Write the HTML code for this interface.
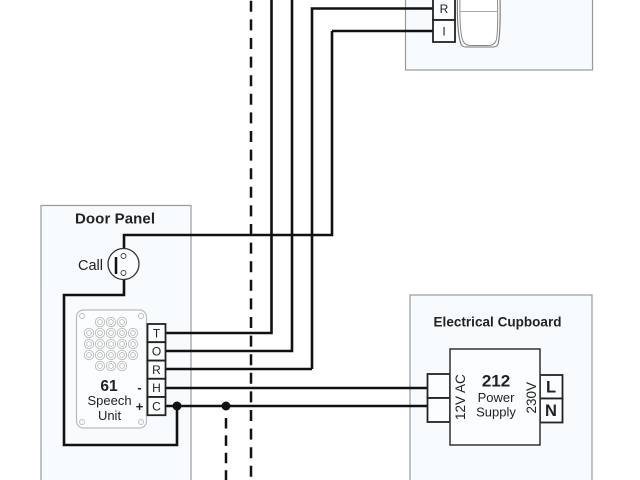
<!DOCTYPE html>
<html><head><meta charset="utf-8"><style>
html,body{margin:0;padding:0;background:#fff}
svg{display:block;filter:blur(.35px)}
text{font-family:"Liberation Sans",sans-serif;fill:#222}
.b{font-weight:bold}
.w{fill:none;stroke:#111;stroke-width:2.6}
.t{fill:#fcfdfe;stroke:#222;stroke-width:1.8}
.h{fill:none;stroke:#bbb;stroke-width:.9}
</style></head><body>
<svg width="640" height="480" viewBox="0 0 640 480" xmlns="http://www.w3.org/2000/svg">
<rect width="640" height="480" fill="#fff"/>
<rect x="405.5" y="-5" width="187" height="75" fill="#f7fbfe" stroke="#999" stroke-width="1.2"/>
<rect x="41" y="205.5" width="150" height="280" fill="#f7fbfe" stroke="#999" stroke-width="1.2"/>
<rect x="410" y="295" width="182" height="190" fill="#f7fbfe" stroke="#999" stroke-width="1.2"/>

<line x1="251" y1="0.8" x2="251" y2="480" stroke="#111" stroke-width="2.5" stroke-dasharray="11 7.6"/>
<line x1="226" y1="418" x2="226" y2="480" stroke="#111" stroke-width="2.5" stroke-dasharray="10.5 6.9"/>

<path class="w" d="M271.500 0V333H165"/>
<path class="w" d="M292 0V351H165"/>
<path class="w" d="M312 369V8.5H433M312 369H165"/>
<path class="w" d="M332 31H433M332 31V235H124V250"/>
<path class="w" d="M165 388H428M165 406H428"/>
<path class="w" stroke-width="3" d="M124 279V295H64V445H177V406"/>
<circle cx="177" cy="406" r="4.5" fill="#111"/>
<circle cx="226" cy="406" r="4.5" fill="#111"/>

<!-- Call -->
<circle cx="123.5" cy="264" r="15.5" fill="#fbfdfe" stroke="#333" stroke-width="1.3"/>
<line x1="116" y1="257" x2="116" y2="274" stroke="#111" stroke-width="2.5"/>
<circle cx="123.5" cy="256" r="2.5" fill="#fff" stroke="#444"/>
<circle cx="123.5" cy="273" r="2.5" fill="#fff" stroke="#444"/>
<text x="78" y="270" font-size="14.500">Call</text>
<text x="75" y="223.500" font-size="15" class="b" textLength="80">Door Panel</text>

<!-- Speech unit -->
<rect x="76.5" y="310" width="70" height="118" rx="7" fill="#fcfdfe" stroke="#bbb" stroke-width="1.2"/>
<g class="h">
<circle cx="82" cy="316" r="2.5"/><circle cx="141" cy="316" r="2.5"/><circle cx="82" cy="422" r="2.5"/><circle cx="141" cy="422" r="2.5"/>
<circle cx="100" cy="322" r="4.7"/><circle cx="111" cy="322" r="4.7"/><circle cx="122" cy="322" r="4.7"/>
<circle cx="100" cy="322" r="2.4"/><circle cx="111" cy="322" r="2.4"/><circle cx="122" cy="322" r="2.4"/>
<circle cx="89" cy="333" r="4.7"/><circle cx="100" cy="333" r="4.7"/><circle cx="111" cy="333" r="4.7"/><circle cx="122" cy="333" r="4.7"/><circle cx="133" cy="333" r="4.7"/>
<circle cx="89" cy="333" r="2.4"/><circle cx="100" cy="333" r="2.4"/><circle cx="111" cy="333" r="2.4"/><circle cx="122" cy="333" r="2.4"/><circle cx="133" cy="333" r="2.4"/>
<circle cx="89" cy="344" r="4.7"/><circle cx="100" cy="344" r="4.7"/><circle cx="111" cy="344" r="4.7"/><circle cx="122" cy="344" r="4.7"/><circle cx="133" cy="344" r="4.7"/>
<circle cx="89" cy="344" r="2.4"/><circle cx="100" cy="344" r="2.4"/><circle cx="111" cy="344" r="2.4"/><circle cx="122" cy="344" r="2.4"/><circle cx="133" cy="344" r="2.4"/>
<circle cx="89" cy="355" r="4.7"/><circle cx="100" cy="355" r="4.7"/><circle cx="111" cy="355" r="4.7"/><circle cx="122" cy="355" r="4.7"/><circle cx="133" cy="355" r="4.7"/>
<circle cx="89" cy="355" r="2.4"/><circle cx="100" cy="355" r="2.4"/><circle cx="111" cy="355" r="2.4"/><circle cx="122" cy="355" r="2.4"/><circle cx="133" cy="355" r="2.4"/>
<circle cx="100" cy="366" r="4.7"/><circle cx="111" cy="366" r="4.7"/><circle cx="122" cy="366" r="4.7"/>
<circle cx="100" cy="366" r="2.4"/><circle cx="111" cy="366" r="2.4"/><circle cx="122" cy="366" r="2.4"/>
</g>
<text x="109" y="391" font-size="15.500" class="b" text-anchor="middle">61</text>
<text x="109.500" y="405" font-size="13" text-anchor="middle">Speech</text>
<text x="109.500" y="420" font-size="13" text-anchor="middle">Unit</text>
<text x="139.500" y="392" font-size="13" class="b" text-anchor="middle">-</text>
<text x="139.500" y="411" font-size="13" class="b" text-anchor="middle">+</text>

<g>
<rect class="t" x="147.5" y="324" width="18" height="18.2"/>
<rect class="t" x="147.5" y="342.2" width="18" height="18.4"/>
<rect class="t" x="147.5" y="360.6" width="18" height="18.2"/>
<rect class="t" x="147.5" y="378.8" width="18" height="18.2"/>
<rect class="t" x="147.5" y="397" width="18" height="18.2"/>
</g>
<g font-size="12" text-anchor="middle">
<text x="156.500" y="337.500">T</text><text x="156.500" y="355.500">O</text><text x="156.500" y="374">R</text><text x="156.500" y="392">H</text><text x="156.500" y="410.500">C</text>
</g>

<!-- top right -->
<rect class="t" x="433" y="-4" width="22" height="24"/>
<rect class="t" x="433" y="20" width="22" height="22"/>
<text x="444" y="13" font-size="12" text-anchor="middle">R</text>
<text x="444" y="35.500" font-size="12" text-anchor="middle">I</text>
<path d="M457.5 -2C457 20 458 36 461 44Q462 47 466 47H493Q497 47 498 44C500 36 500.500 20 500 -2" fill="#fff" stroke="#777" stroke-width="1.1"/>
<path d="M460 -2C459.500 20 460.500 35 463 41Q465 45.500 471 45.500H488Q494 45.500 496 41C498 35 498 20 497.500 -2" fill="#fff" stroke="#888" stroke-width="1"/>
<line x1="460" y1="11.500" x2="498" y2="11.500" stroke="#aaa"/>

<!-- Electrical cupboard -->
<text x="433.500" y="326.700" font-size="13.500" class="b" textLength="128">Electrical Cupboard</text>
<rect class="t" x="427.500" y="374" width="22.500" height="24"/>
<rect class="t" x="427.500" y="398" width="22.500" height="24"/>
<rect class="t" x="540" y="375" width="22.500" height="23.500" stroke="#555" />
<rect class="t" x="540" y="398.500" width="22.500" height="24" stroke="#555" />
<rect x="450" y="349" width="90" height="96" fill="#fcfdfe" stroke="#333" stroke-width="1.500"/>
<text x="496" y="386.500" font-size="17" class="b" text-anchor="middle">212</text>
<text x="496" y="402" font-size="13" text-anchor="middle">Power</text>
<text x="496" y="416.500" font-size="13" text-anchor="middle">Supply</text>
<text transform="translate(465,420)rotate(-90)" font-size="13.500">12V AC</text>
<text transform="translate(536,413.500)rotate(-90)" font-size="13.500">230V</text>
<text x="551" y="392.700" font-size="16.500" class="b" text-anchor="middle">L</text>
<text x="551" y="416" font-size="16.500" class="b" text-anchor="middle">N</text>
</svg>
</body></html>
